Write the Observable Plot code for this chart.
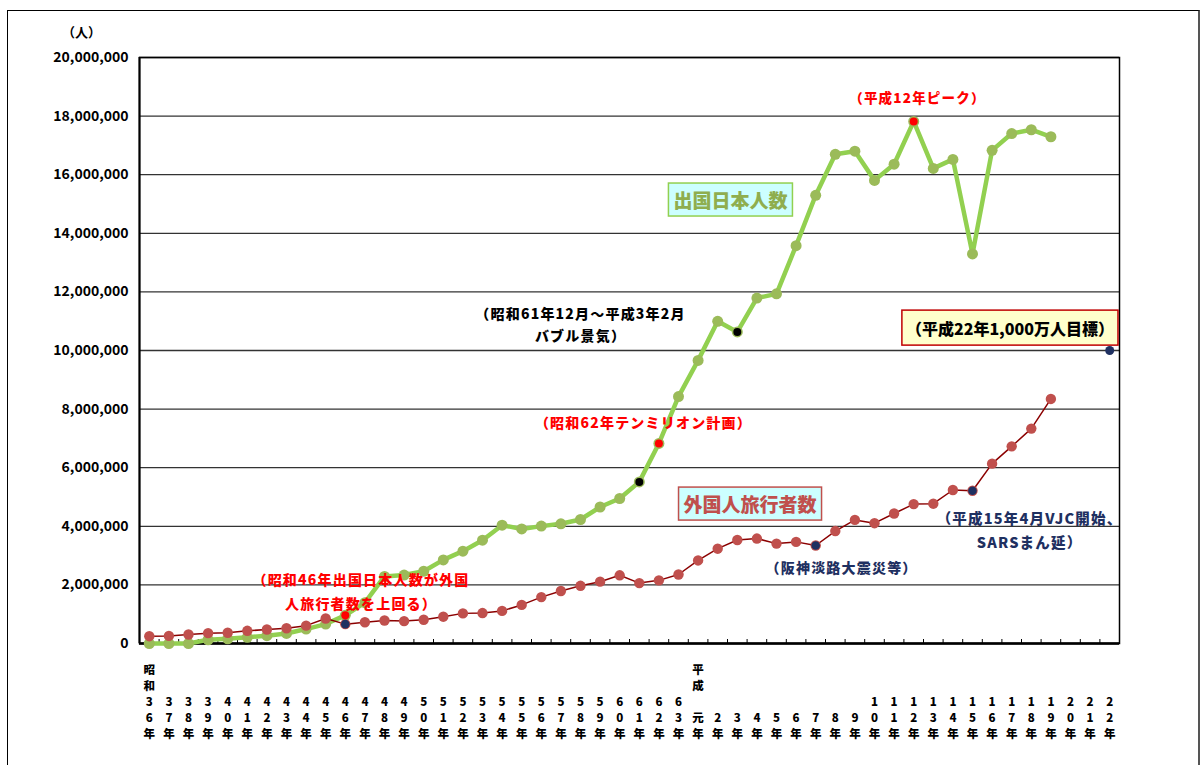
<!DOCTYPE html>
<html><head><meta charset="utf-8">
<script src="https://cdn.jsdelivr.net/npm/d3@7"></script>
<script src="https://cdn.jsdelivr.net/npm/@observablehq/plot@0.6"></script>
<style>
body{margin:0;background:#fff;}
#wrap{position:relative;width:1202px;height:765px;overflow:hidden;background:#fff;}
#chart{position:absolute;left:0;top:0;}
#border{position:absolute;left:7px;top:10px;width:1193px;height:800px;border:1px solid #000;border-right:2px solid #555;box-sizing:border-box;pointer-events:none;}
</style></head><body>
<div id="wrap"><div id="chart"></div><div id="border"></div></div>
<script>
// ---- categories (x) ----
const categories = [
  "昭和36年","昭和37年","昭和38年","昭和39年","昭和40年","昭和41年","昭和42年","昭和43年","昭和44年","昭和45年",
  "昭和46年","昭和47年","昭和48年","昭和49年","昭和50年","昭和51年","昭和52年","昭和53年","昭和54年","昭和55年",
  "昭和56年","昭和57年","昭和58年","昭和59年","昭和60年","昭和61年","昭和62年","昭和63年","平成元年","平成2年",
  "平成3年","平成4年","平成5年","平成6年","平成7年","平成8年","平成9年","平成10年","平成11年","平成12年",
  "平成13年","平成14年","平成15年","平成16年","平成17年","平成18年","平成19年","平成20年","平成21年","平成22年"
];
// ---- 出国日本人数 ----
const departures = [
  0, 0, 0, 127749, 158827, 212409, 267538, 343542, 492880, 663467,
  961135, 1392045, 2288966, 2335530, 2466326, 2852584, 3151431, 3525110, 4038298, 3909333,
  4006388, 4086138, 4232246, 4658833, 4948366, 5516193, 6829338, 8426867, 9662752, 10997431,
  10633777, 11790699, 11933620, 13578934, 15298125, 16694769, 16802750, 15806218, 16357572, 17818590,
  16215657, 16522804, 13296330, 16831112, 17403565, 17534565, 17294935, null, null, null
];
// ---- 外国人旅行者数 ----
const arrivals = [
  250000, 260000, 306000, 352832, 366649, 432937, 476771, 519004, 608741, 854419,
  660716, 723744, 784691, 764246, 811672, 914772, 1028140, 1038875, 1112606, 1316632,
  1583043, 1793164, 1968461, 2110346, 2327047, 2061526, 2154864, 2355412, 2835064, 3235860,
  3532651, 3581540, 3409447, 3468055, 3345274, 3837113, 4218208, 4106057, 4437863, 4757146,
  4771555, 5238963, 5211725, 6137905, 6727926, 7334077, 8346969, null, null, null
];
// ---- highlighted points ----
const departureHighlightYears = ["昭和46年","昭和61年","昭和62年","平成3年","平成12年"];
const departureHighlightColors = ["#FF0000","#000000","#FF0000","#000000","#FF0000"];
const arrivalHighlightYears = ["昭和46年","平成7年","平成15年"];
const targetYears = ["平成22年"];
const targetValues = [10000000];
// ---- y ticks ----
const yTicks = [0,2000000,4000000,6000000,8000000,10000000,12000000,14000000,16000000,18000000,20000000];

const idx = y => categories.indexOf(y);
const depData = categories.map((c,i)=>({i, v: departures[i]}));
const arrData = categories.map((c,i)=>({i, v: arrivals[i]}));
const depHi = departureHighlightYears.map((y,k)=>({i: idx(y), v: departures[idx(y)], c: departureHighlightColors[k]}));
const arrHi = arrivalHighlightYears.map(y=>({i: idx(y), v: arrivals[idx(y)]}));
const target = targetYears.map((y,k)=>({i: idx(y), v: targetValues[k]}));
const boundaries = categories.slice(1).map((c,i)=>i+0.5);

function vertical(label, i){
  const m = label.match(/^(昭和|平成)?(.+)年$/);
  const showEra = i === 0 || label === "平成元年";
  const era = showEra && m[1] ? [...m[1]] : [];
  const num = [...m[2]];
  const numLines = num.length === 1 ? ["\u00a0", num[0]] : num;
  return [...era, ...numLines, "年"].join("\n");
}

const navy = "#1F3061";
const annotations = [
  {text:"（昭和46年出国日本人数が外国\n人旅行者数を上回る）", x:10.8, y:1843000, color:"#FF0000", size:14, lh:1.71},
  {text:"（昭和61年12月～平成3年2月\nバブル景気）", x:22.0, y:10956000, color:"#000000", size:14, lh:1.57},
  {text:"（昭和62年テンミリオン計画）", x:25.21, y:7543000, color:"#FF0000", size:14, lh:1.2},
  {text:"（平成12年ピーク）", x:39.19, y:18635000, color:"#FF0000", size:13.5, lh:1.2},
  {text:"（阪神淡路大震災等）", x:35.32, y:2594000, color:navy, size:14, lh:1.2},
  {text:"（平成15年4月VJC開始、\nSARSまん延）", x:44.91, y:3925000, color:navy, size:14.5, lh:1.66}
];
const boxed = [
  {text:"出国日本人数", x:29.65, y:15070000, color:"#8FAE4E", size:19, fill:"#CCFFFF", stroke:"#92D050", padX:5, padY:3},
  {text:"外国人旅行者数", x:30.65, y:4693000, color:"#C0504D", size:19, fill:"#CCFFFF", stroke:"#C0504D", padX:5, padY:3},
  {text:"（平成22年1,000万人目標）", x:43.91, y:10717000, color:"#000000", size:16, fill:"#FFFFCC", stroke:"#C00000", padX:4, padY:5.5}
];

const font = "'Noto Sans CJK JP', 'Noto Sans', sans-serif";
const frameH = 765 - 57 - 122;
const heavy = 900;

const chart = Plot.plot({
  width: 1202, height: 765,
  marginLeft: 139, marginRight: 83, marginTop: 57, marginBottom: 122,
  style: {fontFamily: font, background: "transparent", color: "#000"},
  x: {domain: [-0.5, 49.5], axis: null},
  y: {domain: [0, 20000000], axis: null},
  marks: [
    Plot.gridY(yTicks, {stroke: "#333", strokeOpacity: 1, strokeWidth: 1.3}),
    Plot.frame({stroke: "#000", strokeWidth: 1.5}),
    Plot.ruleY([0], {stroke: "#000", strokeWidth: 2.5}),
    Plot.ruleX([-0.5], {stroke: "#000", strokeWidth: 2}),
    Plot.ruleX(boundaries, {x: d=>d, insetTop: frameH - 4, stroke: "#000", strokeWidth: 1}),
    Plot.axisY(yTicks, {tickFormat: d3.format(","), tickSize: 0, tickPadding: 11, fontSize: 14, fontWeight: "bold", fill: "#000"}),
    Plot.text(["（人）"], {frameAnchor: "top-left", textAnchor: "middle", lineAnchor: "middle", dx: -58, dy: -25, fontSize: 13, fontWeight: "bold", fill: "#000"}),
    Plot.text(categories, {x: (d,i)=>i, text: (d,i)=>vertical(d,i), frameAnchor: "bottom", textAnchor: "middle", lineAnchor: "bottom", dy: 94, fontSize: 11.5, lineHeight: 1.37, fontWeight: heavy, fill: "#000"}),
    // 出国日本人数
    Plot.line(depData, {x: "i", y: "v", stroke: "#92D050", strokeWidth: 4.5, strokeLinejoin: "round"}),
    Plot.dot(depData, {x: "i", y: "v", r: 5.5, fill: "#9BBB59", stroke: "none"}),
    // 外国人旅行者数
    Plot.line(arrData, {x: "i", y: "v", stroke: "#8B0000", strokeWidth: 1.5}),
    Plot.dot(arrData, {x: "i", y: "v", r: 5.2, fill: "#C0504D", stroke: "none"}),
    Plot.dot(depHi, {x: "i", y: "v", r: 4, fill: "c", stroke: "none"}),
    Plot.dot(arrHi, {x: "i", y: "v", r: 4.3, fill: navy, stroke: "none"}),
    Plot.dot(target, {x: "i", y: "v", r: 4.5, fill: navy, stroke: "none"}),
    ...annotations.map(a => Plot.text([a], {x: "x", y: "y", text: "text", fill: a.color, fontSize: a.size, fontWeight: heavy, lineHeight: a.lh, lineAnchor: "middle", ariaDescription: "annot"})),
    ...boxed.map((b,k) => Plot.text([b], {x: "x", y: "y", text: "text", fill: b.color, fontSize: b.size, fontWeight: heavy, lineAnchor: "middle", ariaDescription: "box-" + k}))
  ]
});
document.getElementById("chart").append(chart);

chart.querySelectorAll('g[aria-description="annot"] text').forEach(t => t.setAttribute("letter-spacing", "1.2"));
boxed.forEach((b,k) => {
  const g = chart.querySelector(`g[aria-description="box-${k}"]`);
  if (!g) return;
  const t = g.querySelector("text");
  const bb = t.getBBox();
  const r = document.createElementNS("http://www.w3.org/2000/svg", "rect");
  r.setAttribute("x", bb.x - b.padX);
  r.setAttribute("y", bb.y - b.padY);
  r.setAttribute("width", bb.width + 2*b.padX);
  r.setAttribute("height", bb.height + 2*b.padY);
  r.setAttribute("fill", b.fill);
  r.setAttribute("stroke", b.stroke);
  r.setAttribute("stroke-width", 1.5);
  const tr = t.getAttribute("transform");
  if (tr) r.setAttribute("transform", tr);
  g.insertBefore(r, t);
});
</script>
</body></html>
